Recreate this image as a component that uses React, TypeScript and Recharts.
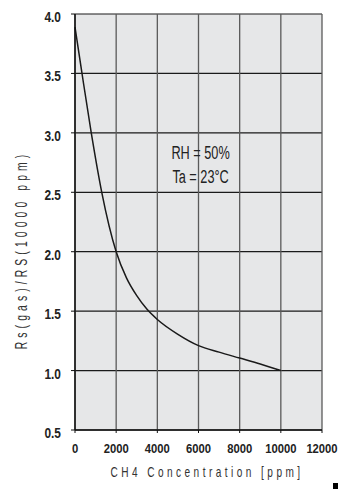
import React from "react";
import { CartesianGrid, Line, LineChart, ReferenceDot, XAxis, YAxis } from "recharts";

const concentration = [0, 340, 790, 1300, 2000, 2500, 3000, 3500, 4000, 5000, 6000, 7000, 8000, 9000, 10000];
const ratio = [3.89, 3.5, 3.0, 2.5, 2.0, 1.78, 1.63, 1.515, 1.43, 1.305, 1.21, 1.155, 1.105, 1.055, 1.0];

const xTicks = [0, 2000, 4000, 6000, 8000, 10000, 12000];
const yTicks = [0.5, 1.0, 1.5, 2.0, 2.5, 3.0, 3.5, 4.0];
const xMinorTicks = [1000, 3000, 5000, 7000, 9000, 11000];
const yMinorTicks = [
  0.6, 0.7, 0.8, 0.9, 1.1, 1.2, 1.3, 1.4, 1.6, 1.7, 1.8, 1.9, 2.1, 2.2, 2.3, 2.4,
  2.6, 2.7, 2.8, 2.9, 3.1, 3.2, 3.3, 3.4, 3.6, 3.7, 3.8, 3.9,
];

const noteLines = ["RH = 50%", "Ta = 23°C"];
const noteX = 6100;
const noteY = [2.78, 2.58];

const data = concentration.map((c, i) => ({ c, r: ratio[i] }));

const font = "'Liberation Sans', Arial, sans-serif";

function MinorYTick({ x, y }: any) {
  return <line x1={x} y1={y} x2={x + 4} y2={y} stroke="#222" strokeWidth={1} />;
}

function MinorXTick({ x, y }: any) {
  return <line x1={x} y1={y} x2={x} y2={y - 3} stroke="#222" strokeWidth={1} />;
}

function YTick({ x, y, payload }: any) {
  return (
    <g transform={`translate(${x},${y}) scale(0.85,1)`}>
      <text x={0} y={0} dy={8} textAnchor="end" fill="#222" fontSize={14} fontFamily={font} fontWeight={700}>
        {Number(payload.value).toFixed(1)}
      </text>
    </g>
  );
}

function XTick({ x, y, payload }: any) {
  return (
    <g transform={`translate(${x},${y}) scale(0.9,1)`}>
      <text x={0} y={0} dy={9.7} textAnchor="middle" fill="#222" fontSize={12.5} fontFamily={font} fontWeight={700}>
        {payload.value}
      </text>
    </g>
  );
}

function NoteLabel({ viewBox, value }: any) {
  const cx = viewBox.x + (viewBox.width || 0) / 2;
  const cy = viewBox.y + (viewBox.height || 0) / 2;
  return (
    <g transform={`translate(${cx},${cy}) scale(0.67,1)`}>
      <text x={0} y={0} textAnchor="middle" fill="#222" fontSize={19} fontFamily={font}>
        {value}
      </text>
    </g>
  );
}

export default function App() {
  return (
    <div style={{ position: "absolute", left: 0, top: 0, width: 339, height: 489, background: "#fff" }}>
      <LineChart width={339} height={489} data={data} margin={{ top: 14, right: 17, left: 0, bottom: 0 }}>
        <CartesianGrid fill="#e6e7e8" stroke="#1a1a1a" strokeWidth={1.2} vertical={false} />
        <CartesianGrid stroke="#5a5a5a" strokeWidth={1.3} horizontal={false} fillOpacity={0} />
        <XAxis xAxisId="minor" dataKey="c" type="number" domain={[0, 12000]} ticks={xMinorTicks} interval={0}
          height={0} tickSize={0} tickMargin={0} axisLine={false} tickLine={false} tick={<MinorXTick />} />
        <YAxis yAxisId="minor" type="number" domain={[0.5, 4]} ticks={yMinorTicks} interval={0}
          width={0} tickSize={0} tickMargin={0} axisLine={false} tickLine={false} tick={<MinorYTick />} />
        <XAxis dataKey="c" type="number" domain={[0, 12000]} ticks={xTicks} interval={0} height={59}
          tickSize={3} tickMargin={10} axisLine={{ stroke: "#111", strokeWidth: 1.5 }} tickLine={{ stroke: "#111" }}
          tick={<XTick />}
          label={{
            content: () => (
              <g transform="translate(207,476.5) scale(0.72,1)">
                <text x={0} y={0} textAnchor="middle" fill="#333" fontSize={14} fontFamily={font} letterSpacing={4.8}>
                  CH4 Concentration [ppm]
                </text>
              </g>
            ),
          }} />
        <YAxis type="number" domain={[0.5, 4]} ticks={yTicks} interval={0} width={75} allowDataOverflow
          tickSize={4} tickMargin={10} axisLine={{ stroke: "#111", strokeWidth: 1.5 }} tickLine={{ stroke: "#111" }}
          tick={<YTick />}
          label={{
            content: () => (
              <g transform="translate(27,250) rotate(-90) scale(0.65,1)">
                <text x={0} y={0} textAnchor="middle" fill="#333" fontSize={16} fontFamily={font} letterSpacing={6.3}>
                  Rs(gas)/RS(10000 ppm)
                </text>
              </g>
            ),
          }} />
        {noteLines.map((t, i) => (
          <ReferenceDot key={t} x={noteX} y={noteY[i]} r={0} fill="none" stroke="none"
            label={<NoteLabel value={t} />} />
        ))}
        <Line type="monotone" dataKey="r" stroke="#1a1a1a" strokeWidth={1.5} dot={false} isAnimationActive={false} />
      </LineChart>
      <div style={{ position: "absolute", left: 333, top: 483, width: 5, height: 6, background: "#000" }} />
    </div>
  );
}
